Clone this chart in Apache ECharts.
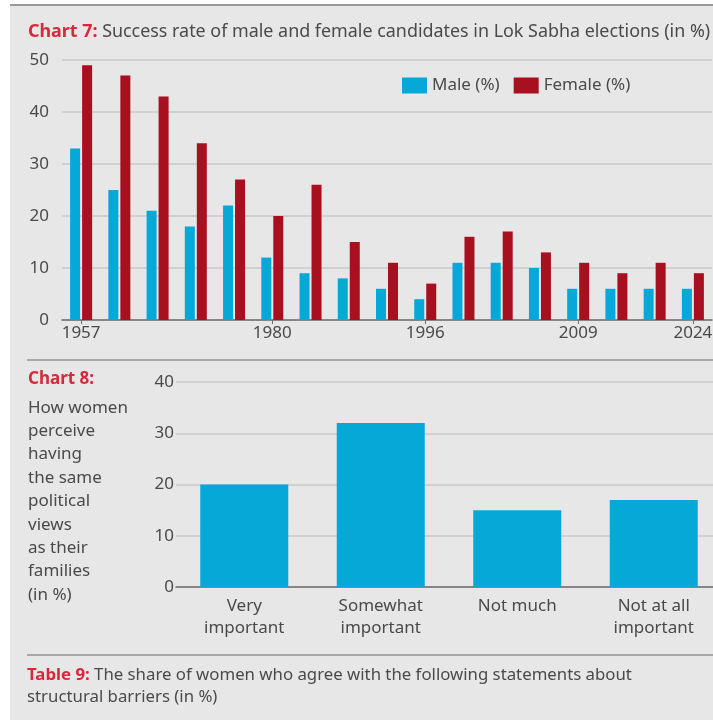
<!DOCTYPE html>
<html>
<head>
<meta charset="utf-8">
<script src="https://cdn.jsdelivr.net/npm/echarts@6/dist/echarts.min.js"></script>
<style>
html,body{margin:0;padding:0;background:#fff;overflow:hidden;}
#c{width:740px;height:720px;}
</style>
</head>
<body>
<div id="c"></div>
<script>
var years = ['1957','1962','1967','1971','1977','1980','1984','1989','1991','1996','1998','1999','2004','2009','2014','2019','2024'];
var shownYears = ['1957','1980','1996','2009','2024'];
var maleRate = [33,25,21,18,22,12,9,8,6,4,11,11,10,6,6,6,6];
var femaleRate = [49,47,43,34,27,20,26,15,11,7,16,17,13,11,9,11,9];
var yTicks1 = [0,10,20,30,40,50];

var perceptionCats = ['Very\nimportant','Somewhat\nimportant','Not much','Not at all\nimportant'];
var perceptionVals = [20,32,15,17];
var yTicks2 = [0,10,20,30,40];

var chart8Lines = ['How women','perceive','having','the same','political','views','as their','families','(in %)'];

var FONT = '"Noto Sans", sans-serif';
var TXT = '#4a4a4a';
var RED = '#d8283c';
var CYAN = '#06a8d8';
var CRIMSON = '#a80f1f';
var GRID = '#c8c8c8';
var FS = 17;

var chart = echarts.init(document.getElementById('c'), null, {renderer:'canvas'});

var graphics = [
  {type:'rect', shape:{x:10,y:6,width:730,height:714}, style:{fill:'#e7e7e7'}, z:-10},
  {type:'line', shape:{x1:10,y1:5,x2:740,y2:5}, style:{stroke:'#9a9a9a',lineWidth:2}, z:-9},
  {type:'line', shape:{x1:27,y1:360,x2:740,y2:360}, style:{stroke:'#a8a8a8',lineWidth:2}},
  {type:'line', shape:{x1:27,y1:655,x2:740,y2:655}, style:{stroke:'#a8a8a8',lineWidth:2}},
  {type:'text', left:28, top:23, style:{
    text:'{r|Chart 7:} Success rate of male and female candidates in Lok Sabha elections (in %)',
    font:'17.9px ' + FONT, fill:TXT,
    rich:{r:{fill:RED, fontWeight:'bold', fontSize:17.9, fontFamily:'Noto Sans'}}
  }},
  {type:'text', left:28, top:371, style:{
    text:'Chart 8:', font:'bold ' + FS + 'px ' + FONT, fill:RED
  }},
  {type:'text', left:28, top:396, style:{
    text:chart8Lines.join('\n'), font:FS + 'px ' + FONT, fill:TXT, lineHeight:23.4
  }},
  {type:'text', left:27, top:664, style:{
    text:'{r|Table 9:} The share of women who agree with the following statements about\nstructural barriers (in %)',
    font:'16.8px ' + FONT, fill:TXT, lineHeight:22,
    rich:{r:{fill:RED, fontWeight:'bold', fontSize:16.8, fontFamily:'Noto Sans'}}
  }}
];

var option = {
  backgroundColor:'transparent',
  animation:false,
  textStyle:{fontFamily:FONT},
  graphic:graphics,
  legend:{
    left:397, top:72, itemWidth:25, itemHeight:16, itemGap:14,
    icon:'rect',
    textStyle:{color:TXT, fontSize:FS, fontFamily:FONT},
    data:['Male (%)','Female (%)']
  },
  grid:[
    {left:62, width:650, top:60, height:260, containLabel:false},
    {left:176, width:546, top:382, height:205, containLabel:false}
  ],
  xAxis:[
    {type:'category', gridIndex:0, data:years,
      axisLine:{lineStyle:{color:'#6e6e6e', width:1.5}},
      axisTick:{show:true, alignWithLabel:true, length:4, lineStyle:{color:'#6e6e6e'},
        interval:function(i,v){return shownYears.indexOf(v) >= 0;}},
      axisLabel:{color:TXT, fontSize:FS, margin:5,
        interval:function(i,v){return shownYears.indexOf(v) >= 0;}}
    },
    {type:'category', gridIndex:1, data:perceptionCats,
      axisLine:{lineStyle:{color:'#6e6e6e', width:1.5}},
      axisTick:{show:false},
      axisLabel:{color:TXT, fontSize:FS, margin:8, lineHeight:22, interval:0}
    }
  ],
  yAxis:[
    {type:'value', gridIndex:0, min:yTicks1[0], max:yTicks1[yTicks1.length-1], interval:10,
      axisLine:{show:false}, axisTick:{show:false},
      axisLabel:{color:TXT, fontSize:FS, margin:13},
      splitLine:{lineStyle:{color:GRID, width:1.5}}
    },
    {type:'value', gridIndex:1, min:yTicks2[0], max:yTicks2[yTicks2.length-1], interval:10,
      axisLine:{show:false}, axisTick:{show:false},
      axisLabel:{color:TXT, fontSize:FS, margin:2},
      splitLine:{lineStyle:{color:GRID, width:1.5}}
    }
  ],
  series:[
    {name:'Male (%)', type:'bar', xAxisIndex:0, yAxisIndex:0, data:maleRate,
      barWidth:10, barGap:'20%', itemStyle:{color:CYAN}},
    {name:'Female (%)', type:'bar', xAxisIndex:0, yAxisIndex:0, data:femaleRate,
      barWidth:10, barGap:'20%', itemStyle:{color:CRIMSON}},
    {name:'Perception', type:'bar', xAxisIndex:1, yAxisIndex:1, data:perceptionVals,
      barWidth:88, itemStyle:{color:CYAN}}
  ]
};
chart.setOption(option);
</script>
</body>
</html>
